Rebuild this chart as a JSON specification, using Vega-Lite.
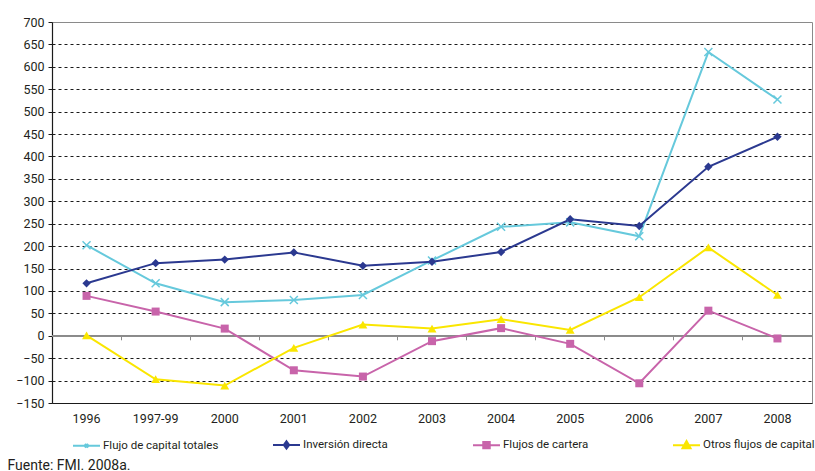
{
  "$schema": "https://vega.github.io/schema/vega-lite/v6.json",
  "width": 760,
  "height": 381,
  "autosize": {"type": "none"},
  "padding": {"left": 52, "top": 22, "right": 3, "bottom": 68},
  "background": "white",
  "config": {
    "font": "Roboto, sans-serif",
    "view": {"stroke": "#8a8a8a", "strokeWidth": 1},
    "axis": {"labelColor": "#231f20", "labelFontSize": 12.5, "labelFontWeight": "normal", "titleColor": "#231f20"},
    "axisY": {"labelOverlap": false}
  },
  "data": {
    "values": [
      {"serie": "Flujo de capital totales", "anio": "1996", "valor": 202},
      {"serie": "Flujo de capital totales", "anio": "1997-99", "valor": 117},
      {"serie": "Flujo de capital totales", "anio": "2000", "valor": 75},
      {"serie": "Flujo de capital totales", "anio": "2001", "valor": 80},
      {"serie": "Flujo de capital totales", "anio": "2002", "valor": 91},
      {"serie": "Flujo de capital totales", "anio": "2003", "valor": 168},
      {"serie": "Flujo de capital totales", "anio": "2004", "valor": 243},
      {"serie": "Flujo de capital totales", "anio": "2005", "valor": 253},
      {"serie": "Flujo de capital totales", "anio": "2006", "valor": 222},
      {"serie": "Flujo de capital totales", "anio": "2007", "valor": 633},
      {"serie": "Flujo de capital totales", "anio": "2008", "valor": 527},
      {"serie": "Inversión directa", "anio": "1996", "valor": 117},
      {"serie": "Inversión directa", "anio": "1997-99", "valor": 162},
      {"serie": "Inversión directa", "anio": "2000", "valor": 170},
      {"serie": "Inversión directa", "anio": "2001", "valor": 186},
      {"serie": "Inversión directa", "anio": "2002", "valor": 156},
      {"serie": "Inversión directa", "anio": "2003", "valor": 165},
      {"serie": "Inversión directa", "anio": "2004", "valor": 187},
      {"serie": "Inversión directa", "anio": "2005", "valor": 260},
      {"serie": "Inversión directa", "anio": "2006", "valor": 245},
      {"serie": "Inversión directa", "anio": "2007", "valor": 377},
      {"serie": "Inversión directa", "anio": "2008", "valor": 444},
      {"serie": "Flujos de cartera", "anio": "1996", "valor": 89},
      {"serie": "Flujos de cartera", "anio": "1997-99", "valor": 54},
      {"serie": "Flujos de cartera", "anio": "2000", "valor": 16},
      {"serie": "Flujos de cartera", "anio": "2001", "valor": -77},
      {"serie": "Flujos de cartera", "anio": "2002", "valor": -91},
      {"serie": "Flujos de cartera", "anio": "2003", "valor": -12},
      {"serie": "Flujos de cartera", "anio": "2004", "valor": 17},
      {"serie": "Flujos de cartera", "anio": "2005", "valor": -18},
      {"serie": "Flujos de cartera", "anio": "2006", "valor": -106},
      {"serie": "Flujos de cartera", "anio": "2007", "valor": 56},
      {"serie": "Flujos de cartera", "anio": "2008", "valor": -6},
      {"serie": "Otros flujos de capital", "anio": "1996", "valor": 1},
      {"serie": "Otros flujos de capital", "anio": "1997-99", "valor": -97},
      {"serie": "Otros flujos de capital", "anio": "2000", "valor": -111},
      {"serie": "Otros flujos de capital", "anio": "2001", "valor": -27},
      {"serie": "Otros flujos de capital", "anio": "2002", "valor": 25},
      {"serie": "Otros flujos de capital", "anio": "2003", "valor": 16},
      {"serie": "Otros flujos de capital", "anio": "2004", "valor": 37},
      {"serie": "Otros flujos de capital", "anio": "2005", "valor": 13},
      {"serie": "Otros flujos de capital", "anio": "2006", "valor": 86},
      {"serie": "Otros flujos de capital", "anio": "2007", "valor": 197},
      {"serie": "Otros flujos de capital", "anio": "2008", "valor": 91}
    ]
  },
  "resolve": {"axis": {"x": "independent"}},
  "layer": [
    {
      "mark": {"type": "rule", "color": "#8a8a8a", "strokeWidth": 1},
      "encoding": {
        "y": {
          "datum": 0, "type": "quantitative",
          "scale": {"domain": [-150, 700], "nice": false, "zero": false},
          "axis": {
            "title": null,
            "values": [-150, -100, -50, 0, 50, 100, 150, 200, 250, 300, 350, 400, 450, 500, 550, 600, 650, 700],
            "tickCount": 18,
            "labelOverlap": false, "labelBound": false,
            "domainColor": "#1a1a1a", "domainWidth": 1.2,
            "tickColor": "#1a1a1a", "tickSize": 4, "labelPadding": 4,
            "grid": true, "gridColor": "#1a1a1a", "gridDash": [3, 3], "gridWidth": 1,
            "gridOpacity": {"condition": {"test": "datum.value === 700 || datum.value === -150 || datum.value === 0", "value": 0}, "value": 1}
          }
        }
      }
    },
    {
      "mark": {"type": "line", "strokeWidth": 2},
      "encoding": {
        "x": {
          "field": "anio", "type": "nominal", "bandPosition": 0.5,
          "sort": ["1996", "1997-99", "2000", "2001", "2002", "2003", "2004", "2005", "2006", "2007", "2008"],
          "scale": {"type": "band", "paddingInner": 0, "paddingOuter": 0},
          "axis": {
            "orient": "bottom", "labelAngle": 0, "ticks": false, "domainColor": "#1a1a1a", "domainWidth": 1.2, "labelPadding": 9,
            "title": "Fuente: FMI. 2008a.", "titleAnchor": "start", "titleAlign": "left", "titleX": -45, "titleY": 66,
            "titleBaseline": "alphabetic", "titleFontSize": 14, "titleFontWeight": "normal", "titleColor": "#231f20"
          }
        },
        "y": {
          "field": "valor", "type": "quantitative",
          "axis": {
            "title": null,
            "values": [-150, -100, -50, 0, 50, 100, 150, 200, 250, 300, 350, 400, 450, 500, 550, 600, 650, 700],
            "tickCount": 18,
            "labelOverlap": false, "labelBound": false,
            "domainColor": "#1a1a1a", "domainWidth": 1.2,
            "tickColor": "#1a1a1a", "tickSize": 4, "labelPadding": 4,
            "grid": true, "gridColor": "#1a1a1a", "gridDash": [3, 3], "gridWidth": 1,
            "gridOpacity": {"condition": {"test": "datum.value === 700 || datum.value === -150 || datum.value === 0", "value": 0}, "value": 1}
          }
        },
        "color": {
          "field": "serie", "type": "nominal",
          "sort": ["Flujo de capital totales", "Inversión directa", "Flujos de cartera", "Otros flujos de capital"],
          "scale": {
            "domain": ["Flujo de capital totales", "Inversión directa", "Flujos de cartera", "Otros flujos de capital"],
            "range": ["#66c9dc", "#2b3990", "#c864aa", "#fae600"]
          },
          "legend": {
            "orient": "none", "legendX": 20, "legendY": 408,
            "direction": "horizontal", "columns": 4, "gridAlign": "all",
            "columnPadding": 50, "padding": 0,
            "title": null, "labelFontSize": 11.5, "labelColor": "#231f20", "labelOffset": 2, "labelLimit": 300,
            "symbolSize": 729, "symbolStrokeWidth": 2,
            "encode": {
              "symbols": {
                "update": {
                  "shape": {"signal": "datum.value === 'Flujo de capital totales' ? 'M-1,0H1M-0.13,-0.13L0.13,0.13M-0.13,0.13L0.13,-0.13M0,-0.15V0.15' : datum.value === 'Inversión directa' ? 'M-1,0H1M0,-0.27L0.2,0L0,0.27L-0.2,0Z' : datum.value === 'Flujos de cartera' ? 'M-1,0H1M-0.24,-0.24H0.24V0.24H-0.24Z' : 'M-1,0H1M0,-0.3L0.3,0.24H-0.3Z'"},
                  "fill": {"scale": "color", "field": "value"},
                  "stroke": {"scale": "color", "field": "value"},
                  "strokeWidth": {"value": 2}
                }
              }
            }
          }
        }
      }
    },
    {
      "transform": [{"filter": "datum.serie === 'Flujo de capital totales'"}],
      "mark": {"type": "point", "filled": false, "opacity": 1, "strokeWidth": 1.5, "shape": "M-1,-1L1,1M-1,1L1,-1", "color": "#66c9dc", "size": 64},
      "encoding": {
        "x": {
          "field": "anio", "type": "nominal", "bandPosition": 0.5,
          "sort": ["1996", "1997-99", "2000", "2001", "2002", "2003", "2004", "2005", "2006", "2007", "2008"],
          "axis": {"orient": "bottom", "offset": -67.2, "title": null, "labels": false, "domain": false, "ticks": true, "bandPosition": 0, "tickColor": "#8a8a8a", "tickSize": 4, "grid": false}
        },
        "y": {"field": "valor", "type": "quantitative"}
      }
    },
    {
      "transform": [{"filter": "datum.serie === 'Inversión directa'"}],
      "mark": {"type": "point", "filled": true, "opacity": 1, "shape": "diamond", "color": "#2b3990", "size": 70},
      "encoding": {
        "x": {"field": "anio", "type": "nominal", "bandPosition": 0.5, "sort": ["1996", "1997-99", "2000", "2001", "2002", "2003", "2004", "2005", "2006", "2007", "2008"], "axis": null},
        "y": {"field": "valor", "type": "quantitative"}
      }
    },
    {
      "transform": [{"filter": "datum.serie === 'Flujos de cartera'"}],
      "mark": {"type": "point", "filled": true, "opacity": 1, "shape": "square", "color": "#c864aa", "size": 64},
      "encoding": {
        "x": {"field": "anio", "type": "nominal", "bandPosition": 0.5, "sort": ["1996", "1997-99", "2000", "2001", "2002", "2003", "2004", "2005", "2006", "2007", "2008"], "axis": null},
        "y": {"field": "valor", "type": "quantitative"}
      }
    },
    {
      "transform": [{"filter": "datum.serie === 'Otros flujos de capital'"}],
      "mark": {"type": "point", "filled": true, "opacity": 1, "shape": "triangle-up", "color": "#fae600", "size": 80},
      "encoding": {
        "x": {"field": "anio", "type": "nominal", "bandPosition": 0.5, "sort": ["1996", "1997-99", "2000", "2001", "2002", "2003", "2004", "2005", "2006", "2007", "2008"], "axis": null},
        "y": {"field": "valor", "type": "quantitative"}
      }
    }
  ]
}
